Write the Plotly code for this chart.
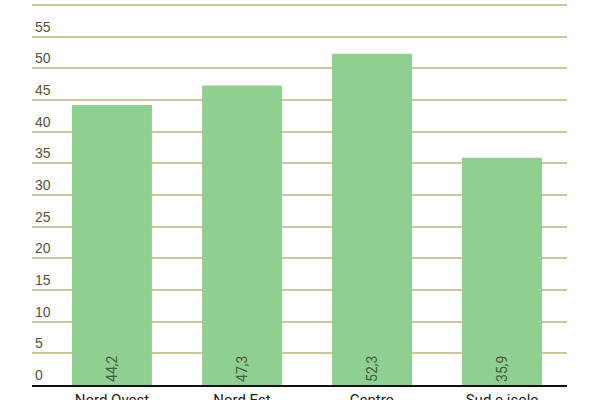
import plotly.graph_objects as go

# dati per ripartizione
regions = ["Nord Ovest", "Nord Est", "Centro", "Sud e isole"]
values = [44.2, 47.3, 52.3, 35.9]
value_labels = ["44,2", "47,3", "52,3", "35,9"]
y_ticks = [0, 5, 10, 15, 20, 25, 30, 35, 40, 45, 50, 55, 60]

fig = go.Figure(data=[go.Bar(
    x=regions, y=values,
    marker=dict(color="#8fcf8f", line=dict(width=0)),
    text=value_labels,
    textposition="inside",
    insidetextanchor="start",
    textangle=-90,
    textfont=dict(family="Roboto", size=14, color="#4a5a48"),
)])

fig.update_layout(
    width=600, height=400,
    margin=dict(l=32, r=33, t=0, b=15),
    paper_bgcolor="white", plot_bgcolor="white",
    bargap=0.385,
    showlegend=False,
    font=dict(family="Roboto", size=13, color="#3a3a2a"),
)
fig.update_xaxes(
    range=[-0.615, 3.5],
    automargin=False,
    showline=True, linecolor="#111111", linewidth=2,
    showgrid=False, ticks="", ticklen=0,
    tickfont=dict(family="Roboto", size=15, color="#222222"),
)
fig.update_yaxes(
    range=[0, 60.8],
    automargin=False,
    tickvals=y_ticks,
    ticklabelposition="inside top",
    showgrid=True, gridcolor="#cfc4a0", gridwidth=2,
    zeroline=False, showline=False,
    tickfont=dict(family="Arial", size=14, color="#5a5236"),
)

# niente margine della pagina, niente modebar
fig.write_html("out.html", config={"displayModeBar": False},
               post_script="document.body.style.margin='0px';")
